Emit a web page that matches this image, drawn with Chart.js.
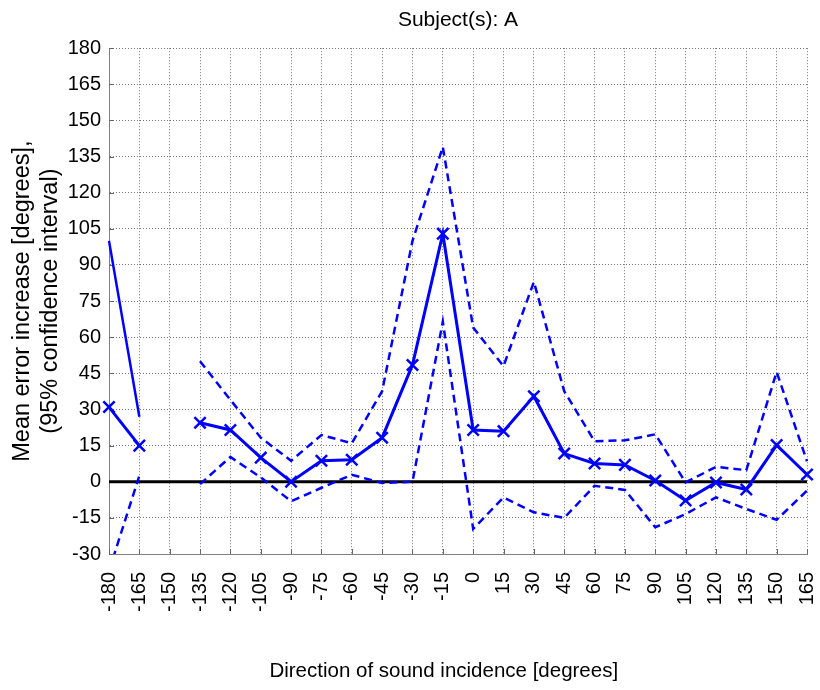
<!DOCTYPE html>
<html>
<head>
<meta charset="utf-8">
<script src="https://cdn.jsdelivr.net/npm/chart.js@4.4.1/dist/chart.umd.min.js"></script>
<style>
  body { margin: 0; background: #fff; }
  canvas { display: block; }
</style>
</head>
<body>
<canvas id="errChart" width="820" height="690"></canvas>
<script>
// directions of sound incidence (degrees)
const directions = ["-180", "-165", "-150", "-135", "-120", "-105", "-90", "-75", "-60", "-45", "-30", "-15",
  "0", "15", "30", "45", "60", "75", "90", "105", "120", "135", "150", "165"];

// mean error increase and 95% confidence bounds (null = no data)
const meanErr = [31, 15, null, 24.5, 21.5, 10, 0, 8.7, 9.1, 18.3, 48.5, 103,
  21.5, 21, 35.5, 11.7, 7.6, 7, 0.5, -7.8, -0.3, -3.2, 15.2, 3];
const upperCI = [100, 27, null, 50, 34, 18.3, 8.7, 19.4, 16, 37.6, 100, 139,
  64, 48, 83, 37.6, 16.8, 17.2, 19.7, -0.3, 6.2, 4.8, 45.6, 8.5];
const lowerCI = [-37, 2.5, null, -1, 10.3, 1.8, -8.1, -2.5, 2.9, -0.5, 0, 66.5,
  -19.6, -6.5, -12.7, -15, -1.7, -3.4, -18.9, -13.4, -6.5, -11.3, -15.8, -3.7];
const zeroLine = directions.map(() => 0);

const FONT = "'Liberation Sans', Arial, Helvetica, sans-serif";

// small inward tick marks like the original plot
const innerTicks = {
  id: "innerTicks",
  beforeDatasetsDraw(chart) {
    const { ctx, chartArea, scales } = chart;
    ctx.save();
    ctx.strokeStyle = "#666";
    ctx.lineWidth = 1;
    ctx.beginPath();
    scales.x.ticks.forEach((t, i) => {
      const x = Math.round(scales.x.getPixelForTick(i)) + 0.5;
      ctx.moveTo(x, chartArea.bottom);
      ctx.lineTo(x, chartArea.bottom - 5);
    });
    scales.y.ticks.forEach((t, i) => {
      const y = Math.round(scales.y.getPixelForTick(i)) + 0.5;
      ctx.moveTo(chartArea.left, y);
      ctx.lineTo(chartArea.left + 5, y);
    });
    ctx.stroke();
    ctx.restore();
  },
};

const ctx = document.getElementById("errChart").getContext("2d");
new Chart(ctx, {
  type: "line",
  data: {
    labels: directions,
    datasets: [
      {
        label: "mean",
        data: meanErr,
        borderColor: "#0000ff",
        borderWidth: 3,
        pointStyle: "crossRot",
        pointRadius: 8,
        pointBorderWidth: 2.5,
        pointBorderColor: "#0000ff",
        spanGaps: false,
        order: 1,
      },
      {
        label: "upper",
        data: upperCI,
        borderColor: "#0000ff",
        borderWidth: 2.5,
        borderDash: [8, 5],
        // the first steep piece looks solid in the original
        segment: { borderDash: (c) => (c.p0DataIndex === 0 ? [] : undefined) },
        pointRadius: 0,
        spanGaps: false,
        order: 2,
      },
      {
        label: "lower",
        data: lowerCI,
        borderColor: "#0000ff",
        borderWidth: 2.5,
        borderDash: [8, 5],
        pointRadius: 0,
        spanGaps: false,
        order: 3,
      },
      {
        label: "zero",
        data: zeroLine,
        borderColor: "#000000",
        borderWidth: 3,
        pointRadius: 0,
        order: 4,
      },
    ],
  },
  options: {
    responsive: false,
    animation: false,
    layout: { padding: { left: 0, right: 13, top: 0, bottom: 0 } },
    plugins: {
      legend: { display: false },
      tooltip: { enabled: false },
      title: {
        display: true,
        text: "Subject(s): A",
        fullSize: false,
        color: "#000",
        font: { family: FONT, size: 21, weight: "normal" },
        padding: { top: 8, bottom: 15 },
      },
    },
    scales: {
      x: {
        type: "category",
        offset: false,
        grid: { color: "#777", drawTicks: false },
        border: { display: true, color: "#808080", width: 1, dash: [1, 2] },
        ticks: {
          color: "#000",
          font: { family: FONT, size: 20 },
          minRotation: 90,
          maxRotation: 90,
          autoSkip: false,
          padding: 18,
        },
        title: {
          display: true,
          // trailing spaces nudge the centred label a little to the left
          text: "Direction of sound incidence [degrees]\u00a0\u00a0\u00a0\u00a0\u00a0",
          color: "#000",
          font: { family: FONT, size: 20.5 },
          padding: { top: 0, bottom: 6 },
        },
        afterFit(scale) {
          scale.height = 136;
          scale.paddingLeft = 0;
          scale.paddingRight = 0;
        },
      },
      y: {
        min: -30,
        max: 180,
        grid: { color: "#777", drawTicks: false },
        border: { display: true, color: "#808080", width: 1, dash: [1, 2] },
        ticks: {
          stepSize: 15,
          color: "#000",
          font: { family: FONT, size: 20 },
          padding: 8,
        },
        title: {
          display: true,
          text: ["Mean error increase [degrees],", "(95% confidence interval)"],
          color: "#000",
          font: { family: FONT, size: 23.5, lineHeight: 1.2 },
          padding: { top: 8, bottom: 0 },
        },
        afterFit(scale) {
          scale.width = 109;
          scale.paddingTop = 0;
          scale.paddingBottom = 0;
        },
      },
    },
  },
  plugins: [innerTicks],
});
</script>
</body>
</html>
